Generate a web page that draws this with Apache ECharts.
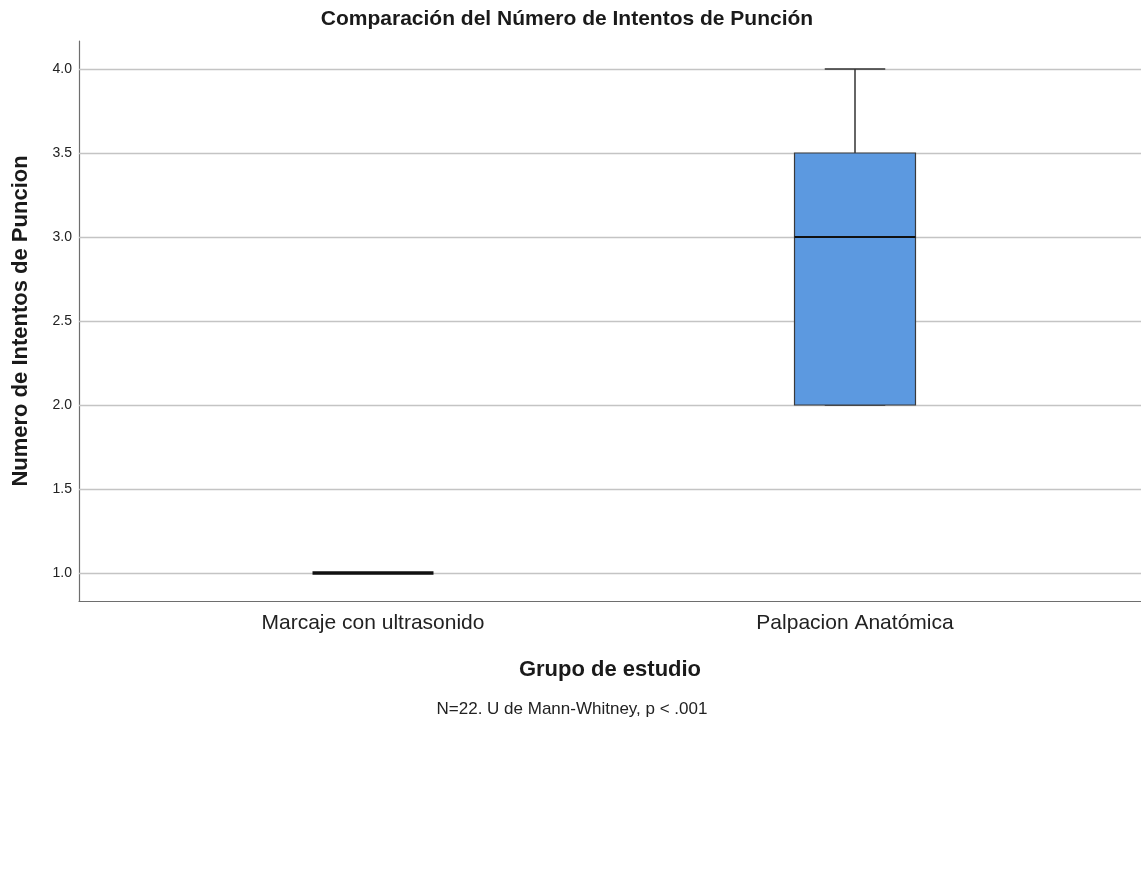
<!DOCTYPE html>
<html>
<head>
<meta charset="utf-8">
<script src="https://cdn.jsdelivr.net/npm/echarts@6/dist/echarts.min.js"></script>
<style>
html,body{margin:0;padding:0;background:#fff;}
#chart{width:1141px;height:873px;}
</style>
</head>
<body>
<div id="chart"></div>
<script>
const categories = ['Marcaje con ultrasonido', 'Palpacion Anatómica'];
const mins    = [1, 2];
const q1s     = [1, 2];
const medians = [1, 3];
const q3s     = [1, 3.5];
const maxs    = [1, 4];
const yTicks  = [1.0, 1.5, 2.0, 2.5, 3.0, 3.5, 4.0];

const FONT = '"Liberation Sans", Arial, sans-serif';
const chart = echarts.init(document.getElementById('chart'));

const boxData = categories.map((c, i) => [i + 1, mins[i], q1s[i], medians[i], q3s[i], maxs[i]]);

function renderBox(params, api) {
  const x = api.value(0);
  const pMin = api.coord([x, api.value(1)]);
  const pQ1 = api.coord([x, api.value(2)]);
  const pMed = api.coord([x, api.value(3)]);
  const pQ3 = api.coord([x, api.value(4)]);
  const pMax = api.coord([x, api.value(5)]);
  const w = api.size([0.251, 0])[0];
  const cx = pMed[0];
  const children = [];
  const boxH = pQ1[1] - pQ3[1];
  if (boxH > 0.5) {
    children.push({type:'line', shape:{x1:cx, y1:pQ3[1], x2:cx, y2:pMax[1]}, style:{stroke:'#333', lineWidth:1.5}});
    children.push({type:'line', shape:{x1:cx - w/4, y1:pMax[1], x2:cx + w/4, y2:pMax[1]}, style:{stroke:'#333', lineWidth:1.5}});
    children.push({type:'line', shape:{x1:cx, y1:pQ1[1], x2:cx, y2:pMin[1]}, style:{stroke:'#333', lineWidth:1.5}});
    children.push({type:'line', shape:{x1:cx - w/4, y1:pMin[1], x2:cx + w/4, y2:pMin[1]}, style:{stroke:'#333', lineWidth:1.5}});
    children.push({type:'rect', shape:{x:cx - w/2, y:pQ3[1], width:w, height:boxH}, style:{fill:'#5c99e0', stroke:'#3a3a3a', lineWidth:1.2}});
    children.push({type:'line', shape:{x1:cx - w/2, y1:pMed[1], x2:cx + w/2, y2:pMed[1]}, style:{stroke:'#111', lineWidth:2}});
  } else {
    children.push({type:'line', shape:{x1:cx - w/2, y1:pMed[1], x2:cx + w/2, y2:pMed[1]}, style:{stroke:'#111', lineWidth:3.5}});
  }
  return {type:'group', children};
}

const option = {
  backgroundColor: '#ffffff',
  animation: false,
  title: [
    {
      text: 'Comparación del Número de Intentos de Punción',
      left: 562, top: 4, textAlign: 'center',
      textStyle: {fontFamily: FONT, fontSize: 21, fontWeight: 'bold', color: '#1a1a1a'}
    },
    {
      text: 'N=22. U de Mann-Whitney, p < .001',
      left: 567, top: 696, textAlign: 'center',
      textStyle: {fontFamily: FONT, fontSize: 17, fontWeight: 'normal', color: '#222'}
    }
  ],
  grid: {left: 79, right: 0, top: 41, bottom: 272, containLabel: false, outerBoundsMode: 'none'},
  xAxis: {
    type: 'value',
    min: 1 - 294 / 482,
    max: 2 + 286 / 482,
    splitNumber: 4,
    name: 'Grupo de estudio',
    nameLocation: 'middle',
    nameGap: 58,
    nameTextStyle: {fontFamily: FONT, fontSize: 22, fontWeight: 'bold', color: '#1a1a1a'},
    axisLine: {show: true, lineStyle: {color: '#6e6e6e', width: 1.2}},
    axisTick: {show: false},
    splitLine: {show: false},
    axisLabel: {
      fontFamily: FONT, fontSize: 21, color: '#222', margin: 12,
      showMinLabel: false, showMaxLabel: false,
      formatter: v => {
        const i = Math.round(v) - 1;
        return Math.abs(v - Math.round(v)) < 1e-6 && categories[i] ? categories[i] : '';
      }
    }
  },
  yAxis: {
    type: 'value',
    min: 1 - 28 / 168,
    max: 4 + 28 / 168,
    splitNumber: 7,
    name: 'Numero de Intentos de Puncion',
    nameLocation: 'middle',
    nameGap: 47,
    nameTextStyle: {fontFamily: FONT, fontSize: 22, fontWeight: 'bold', color: '#1a1a1a'},
    axisLine: {show: true, lineStyle: {color: '#6e6e6e', width: 1.2}},
    axisTick: {show: false},
    splitLine: {show: false},
    axisLabel: {
      fontFamily: FONT, fontSize: 14, color: '#222', margin: 7,
      showMinLabel: false, showMaxLabel: false,
      formatter: v => yTicks.some(t => Math.abs(t - v) < 1e-6) ? v.toFixed(1) : ''
    }
  },
  series: [
    {
      type: 'line',
      data: [],
      silent: true,
      markLine: {
        silent: true,
        symbol: ['none', 'none'],
        label: {show: false},
        lineStyle: {color: '#c4c4c4', type: 'solid', width: 1.3},
        data: yTicks.map(t => ({yAxis: t}))
      }
    },
    {
      type: 'custom',
      renderItem: renderBox,
      data: boxData,
      encode: {x: 0, y: [1, 2, 3, 4, 5]},
      z: 5
    }
  ]
};
chart.setOption(option);
</script>
</body>
</html>
